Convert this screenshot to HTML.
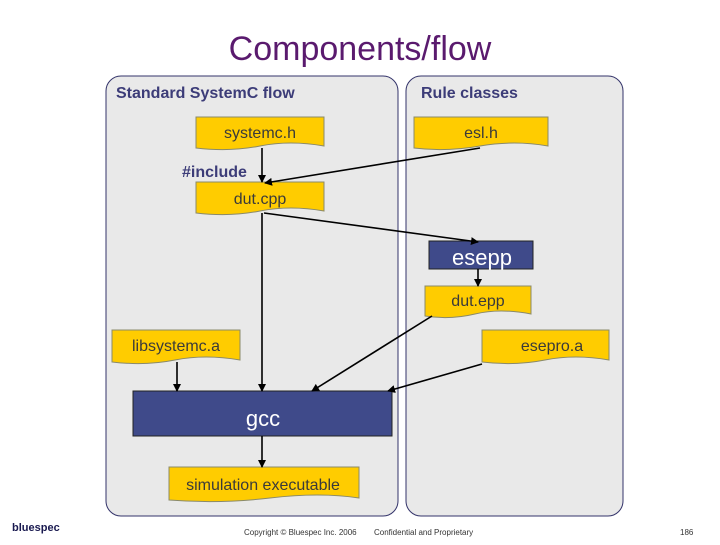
<!DOCTYPE html>
<html><head><style>
body{margin:0;width:720px;height:540px;background:#fff;overflow:hidden;font-family:"Liberation Sans",sans-serif}
</style></head><body>
<svg width="720" height="540" xmlns="http://www.w3.org/2000/svg" font-family="Liberation Sans, sans-serif">
<defs><marker id="a" markerWidth="8" markerHeight="8" refX="7" refY="4" orient="auto" markerUnits="userSpaceOnUse"><path d="M0,0 L8,4 L0,8z" fill="#000"/></marker></defs>
<text x="360" y="60" font-size="34" fill="#5a1a6e" text-anchor="middle">Components/flow</text>
<rect x="106" y="76" width="292" height="440" rx="15" fill="#e9e9e9" stroke="#33336a" stroke-width="1"/>
<rect x="406" y="76" width="217" height="440" rx="15" fill="#e9e9e9" stroke="#33336a" stroke-width="1"/>
<text x="116" y="98" font-size="16" font-weight="bold" fill="#3c3c78">Standard SystemC flow</text>
<text x="421" y="98" font-size="16" font-weight="bold" fill="#3c3c78">Rule classes</text>
<g fill="#ffcc00" stroke="#8a8a6a" stroke-width="1">
<path d="M196,117H324V146Q290,140 260,146T196,148Z"/>
<path d="M414,117H548V146Q514,140 480,146T414,148Z"/>
<path d="M196,182H324V211Q290,205 260,211T196,213Z"/>
<path d="M425,286H531V314Q500,308 475,314T425,316Z"/>
<path d="M112,330H240V360Q205,354 175,360T112,362Z"/>
<path d="M482,330H609V360Q575,354 545,360T482,362Z"/>
<path d="M169,467H359V498Q320,492 270,498T169,500Z"/>
</g>
<rect x="429" y="241" width="104" height="28" fill="#3f4a8a" stroke="#222"/>
<rect x="133" y="391" width="259" height="45" fill="#3f4a8a" stroke="#222"/>
<g font-size="16" fill="#3a3a3a" text-anchor="middle">
<text x="260" y="138">systemc.h</text>
<text x="481" y="138">esl.h</text>
<text x="260" y="204">dut.cpp</text>
<text x="478" y="306">dut.epp</text>
<text x="176" y="351">libsystemc.a</text>
<text x="552" y="351">esepro.a</text>
<text x="263" y="490">simulation executable</text>
</g>
<text x="182" y="177" font-size="16" font-weight="bold" fill="#3c3c78">#include</text>
<text x="482" y="265" font-size="22" fill="#fff" text-anchor="middle">esepp</text>
<text x="263" y="426" font-size="22" fill="#fff" text-anchor="middle">gcc</text>
<g stroke="#000" stroke-width="1.6" fill="none" marker-end="url(#a)">
<line x1="262" y1="148" x2="262" y2="182"/>
<line x1="480" y1="148" x2="265" y2="183"/>
<line x1="264" y1="213" x2="478" y2="242"/>
<line x1="262" y1="213" x2="262" y2="391"/>
<line x1="478" y1="269" x2="478" y2="286"/>
<line x1="432" y1="316" x2="312" y2="391"/>
<line x1="177" y1="362" x2="177" y2="391"/>
<line x1="482" y1="364" x2="388" y2="391"/>
<line x1="262" y1="436" x2="262" y2="467"/>
</g>
<text x="12" y="531" font-size="11" font-weight="bold" fill="#1a1a50">bluespec</text>
<text x="244" y="535" font-size="8" fill="#333">Copyright © Bluespec Inc. 2006</text>
<text x="374" y="535" font-size="8" fill="#333">Confidential and Proprietary</text>
<text x="680" y="535" font-size="8" fill="#333">186</text>
</svg>
</body></html>
